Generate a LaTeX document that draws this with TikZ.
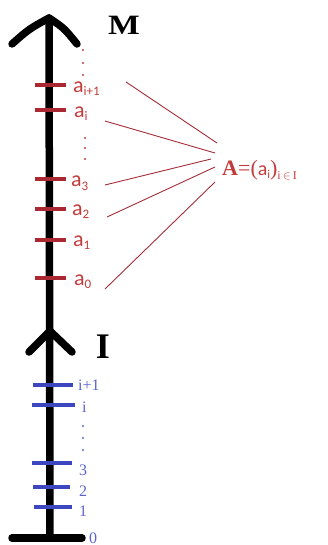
\documentclass[tikz,border=0pt]{standalone}
\usepackage{fontspec}
\setmainfont{Liberation Serif}
\newfontfamily\lblfont{Carlito}
\definecolor{axisred}{RGB}{170,40,50}
\definecolor{txtred}{RGB}{195,60,60}
\definecolor{linered}{RGB}{165,45,55}
\definecolor{tickblue}{RGB}{60,70,190}
\definecolor{txtblue}{RGB}{90,100,205}
\newcommand{\lsub}[1]{\raisebox{-3pt}{\fontsize{13}{13}\selectfont #1}}
\begin{document}
\begin{tikzpicture}[x=1pt,y=-1pt,
  axis/.style={line width=7.5pt, line cap=round, line join=round, draw=black},
  redtick/.style={draw=axisred, line width=4.2pt},
  bluetick/.style={draw=tickblue, line width=3.5pt},
  redlbl/.style={text=txtred, font=\lblfont\fontsize{22}{22}\selectfont, anchor=base west, inner sep=0pt},
  bluelbl/.style={text=txtblue, font=\fontsize{16}{16}\selectfont, anchor=base west, inner sep=0pt},
  conn/.style={draw=linered, line width=0.9pt},
  reddot/.style={fill=txtred, circle, inner sep=0pt, minimum size=2.4pt},
  bluedot/.style={fill=txtblue, circle, inner sep=0pt, minimum size=2.4pt},
  title/.style={font=\bfseries, anchor=base, inner sep=0pt}]
\useasboundingbox (0,0) rectangle (327,545);

% main axis
\coordinate (top) at (49,18);
\coordinate (bot) at (50,538);
\draw[axis] (top) -- (bot);
\draw[axis] (12,44) .. controls (29,29) .. (top) .. controls (64,28) .. (77,44);
\draw[axis] (12,538) -- (82,538);
% second arrow
\coordinate (iapex) at (50,331);
\draw[axis] (29,352) -- (iapex) -- (72,352);

% titles
\node[title, xscale=1.2, font=\bfseries\fontsize{28}{28}\selectfont] (M) at (124,35) {M};
\node[title, font=\bfseries\fontsize{36}{36}\selectfont] (I) at (103,358) {I};

% red ticks
\foreach \y/\n in {85/ti1, 110/ti, 179/t3, 209/t2, 240/t1, 278/t0}
  \draw[redtick] (35,\y) -- (66,\y) coordinate (\n);

% red labels
\node[redlbl] (ai1) at (73,93) {a\lsub{i+1}};
\node[redlbl] (ai) at (74,118) {a\lsub{i}};
\node[redlbl] (a3) at (71,187) {a\lsub{3}};
\node[redlbl] (a2) at (72,215) {a\lsub{2}};
\node[redlbl] (a1) at (73,246) {a\lsub{1}};
\node[redlbl] (a0) at (74,285) {a\lsub{0}};

% red dots
\foreach \y [count=\k] in {50,63,75} \node[reddot] (rdt\k) at (83,\y) {};
\foreach \y [count=\k] in {138,148,159} \node[reddot] (rdm\k) at (85,\y) {};

% A label
\node[anchor=base west, inner sep=0pt, text=txtred] (A) at (222,176)
  {{\bfseries\fontsize{22}{22}\selectfont A}{\fontsize{22}{22}\selectfont =(}{\lblfont\fontsize{20}{20}\selectfont a\raisebox{-2pt}{\fontsize{12}{12}\selectfont i}}{\fontsize{22}{22}\selectfont )}\raisebox{-4pt}{\fontsize{12}{12}\selectfont i\,$\in$\,I}};

% connectors
\coordinate (s1) at (126,82);  \coordinate (e1) at (217,143);
\coordinate (s2) at (105,121); \coordinate (e2) at (215,153);
\coordinate (s3) at (105,185); \coordinate (e3) at (211,159);
\coordinate (s4) at (107,217); \coordinate (e4) at (215,167);
\coordinate (s5) at (105,289); \coordinate (e5) at (215,182);
\foreach \i in {1,...,5} \draw[conn] (s\i) -- (e\i);

% blue ticks
\foreach \y/\a/\b in {385/33/73, 405/32/75, 463/32/72, 487/33/70, 507/34/72}
  \draw[bluetick] (\a,\y) -- (\b,\y);

% blue labels
\node[bluelbl] (ii1) at (78,390) {i+1};
\node[bluelbl] (ii) at (82,412) {i};
\node[bluelbl] (i3) at (79,475) {3};
\node[bluelbl] (i2) at (79,496) {2};
\node[bluelbl] (i1) at (79,516) {1};
\node[bluelbl] (i0) at (89,543) {0};

% blue dots
\foreach \y [count=\k] in {426,438,450} \node[bluedot] (bd\k) at (83,\y) {};
\end{tikzpicture}
\end{document}
